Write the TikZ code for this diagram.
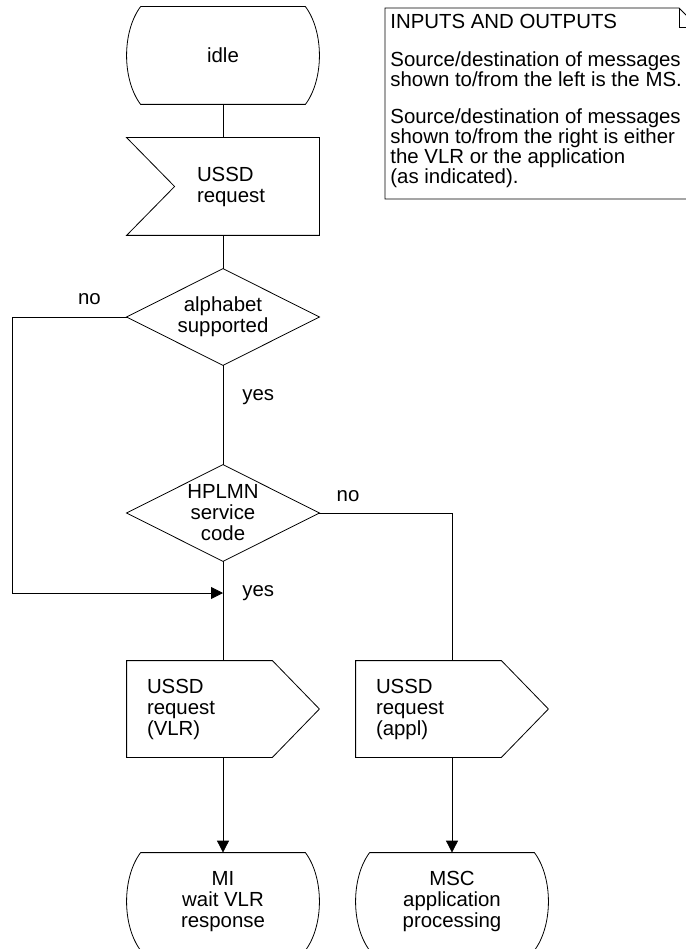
\documentclass[tikz,border=0pt]{standalone}
\usepackage{fontspec}
\setmainfont{Liberation Sans}
\usepackage{tikz}
\usetikzlibrary{arrows.meta}
\tikzset{
  every node/.style = {inner sep=0pt, font=\fontsize{20.4}{21}\selectfont},
  state/.style = {minimum width=164pt, minimum height=97pt, align=center},
  inbox/.style = {minimum width=144pt, minimum height=97pt, text width=100pt, align=left},
  outbox/.style = {minimum width=145pt, minimum height=96pt, text width=105pt, align=left},
  decision/.style = {minimum width=192pt, minimum height=96pt, align=center},
}

\begin{document}
\begin{tikzpicture}[x=1pt,y=-1pt,line width=0.8pt,>={Triangle[length=12pt,width=12pt]}]
            \useasboundingbox (0,0) rectangle (685,949);
            \node[state] (idle) at (223,55.5) {idle};
            \node[inbox] (req) at (247,186.5) {USSD\\request};
            \node[decision] (alpha) at (223,317) {alphabet\\supported};
            \node[decision] (hplmn) at (223,513) {HPLMN\\service\\code};
            \node[outbox] (vlr) at (199.5,709) {USSD\\request\\(VLR)};
            \node[outbox] (appl) at (428.5,709) {USSD\\request\\(appl)};
            \node[state] (wait) at (223,901.5) {MI\\wait VLR\\response};
            \node[state] (proc) at (452,901.5) {MSC\\application\\processing};
            \node (no1) at (89.5,299) {no};
            \node (yes1) [anchor=west] at (242,397) {yes};
            \node (no2) at (348,496) {no};
            \node (yes2) [anchor=west] at (242,593) {yes};
            \node (io) [anchor=north west, align=left, font=\fontsize{20.4}{18.3}\selectfont] at (390,13.4) {INPUTS AND OUTPUTS\\[19.7pt]
                Source/destination of messages\\shown to/from the left is the MS.\\[18.7pt]
                Source/destination of messages\\shown to/from the right is either\\the VLR or the application\\(as indicated).};
            \coordinate (join) at (223,593);
            \foreach \n in {idle,wait,proc}
                \draw (\n.north west) -- (\n.north east) .. controls +(18.7,25) and +(18.7,-25) .. (\n.south east)
                    -- (\n.south west) .. controls +(-18.7,-25) and +(-18.7,25) .. (\n.north west);
            \draw (req.north east) -- ([xshift=-48pt]req.north west) -- (req.west) -- ([xshift=-48pt]req.south west) -- (req.south east) -- cycle;
            \foreach \n in {alpha,hplmn}
                \draw (\n.north) -- (\n.east) -- (\n.south) -- (\n.west) -- cycle;
            \foreach \n in {vlr,appl}
                \draw (\n.north west) -- (\n.north east) -- ([xshift=47pt]\n.east) -- (\n.south east) -- (\n.south west) -- cycle;
            \draw (385,8) -- (679,8) -- (698,27) -- (698,199) -- (385,199) -- cycle;
            \draw (679,8) -- (679,27) -- (698,27);
            \draw (idle.south) -- (idle.south |- req.north);
            \draw (alpha.north |- req.south) -- (alpha.north);
            \draw (alpha.south) -- (hplmn.north);
            \draw (hplmn.south) -- (hplmn.south |- vlr.north);
            \draw[->] (alpha.west) -- ++(-114,0) |- (join);
            \draw (hplmn.east) -| (proc.north |- appl.north);
            \draw[->] (wait.north |- vlr.south) -- (wait.north);
            \draw[->] (proc.north |- appl.south) -- (proc.north);
\end{tikzpicture}
\end{document}
